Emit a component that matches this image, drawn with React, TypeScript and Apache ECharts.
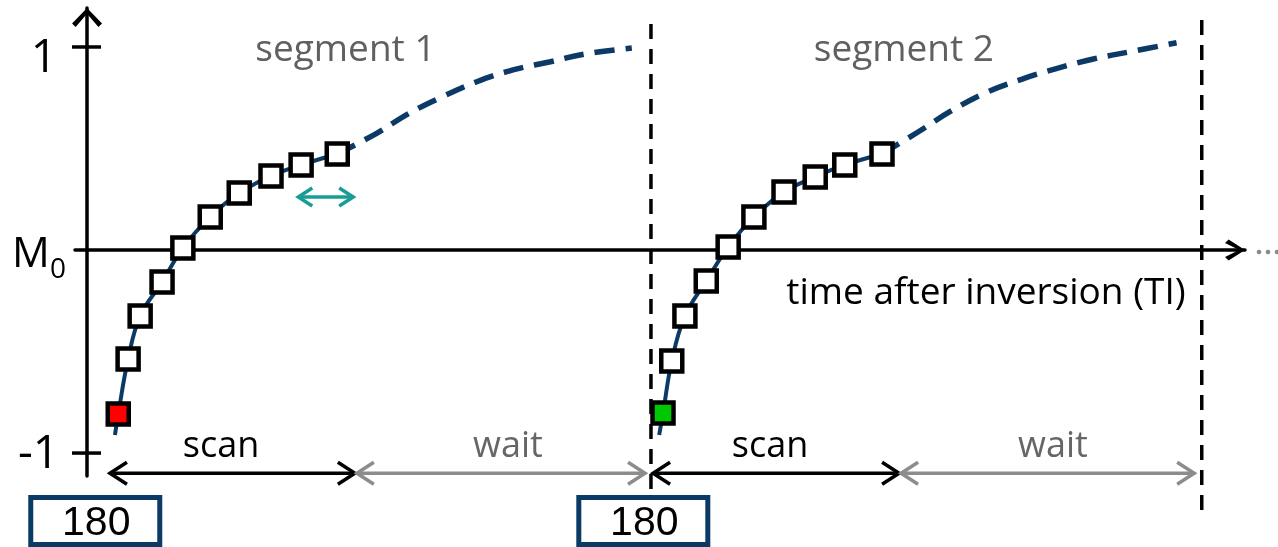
import React, { useEffect, useRef } from "react";
import * as echarts from "echarts";

// ---------- data (time units, magnetization in units of M0) ----------
const xRange = [-22, 2115];
const yRange = [-1.113, 1.192];
const yTickValues = [1, -1];

const seg1Start: [number, number] = [51, -0.911];
const seg1Readouts: [number, number][] = [
  [57, -0.808], [75, -0.537], [97, -0.325], [137, -0.158], [175, 0.01],
  [225, 0.163], [278, 0.281], [336, 0.365], [391, 0.419], [457, 0.473],
];
const seg1Wait: [number, number][] = [
  [457, 0.473], [529, 0.575], [588, 0.673], [649, 0.755], [712, 0.829],
  [778, 0.887], [844, 0.926], [911, 0.966], [995, 0.995],
];

const seg2Start: [number, number] = [1045, -0.911];
const seg2Readouts: [number, number][] = [
  [1052, -0.803], [1068, -0.547], [1092, -0.325], [1131, -0.153], [1171, 0.015],
  [1218, 0.163], [1273, 0.286], [1330, 0.36], [1384, 0.419], [1452, 0.473],
];
const seg2Wait: [number, number][] = [
  [1452, 0.473], [1517, 0.58], [1579, 0.686], [1643, 0.777], [1708, 0.842],
  [1772, 0.895], [1838, 0.941], [1906, 0.977], [1990, 1.021],
];

// interval arrows: [start, end, level]
const scanArrows = [[40, 491, -1.099], [1032, 1485, -1.099]];
const waitArrows = [[491, 1021, -1.099], [1485, 2024, -1.099]];
const trArrows = [[384, 488, 0.261]];

// segment boundaries (dashed verticals) and inversion pulses
const boundaryTimes = [1030, 2036];
const pulseTimes = [15, 1016];
const pulseLabel = "180";
const segmentLabels = ["segment 1", "segment 2"];
const segmentLabelTimes = [472, 1492];

const CURVE = "#0c3a67";
const FONT = "'Open Sans', 'Noto Sans', sans-serif";

function chevron(w: number, h: number, t: number) {
  const c = t * 1.6;
  return `path://M${w / 2},0 L${w},${h - t} L${w - t},${h} L${w / 2},${c} L${t},${h} L0,${h - t} Z`;
}

function arrowSeries(name: string, data: number[][], color: string, lw: number, len: number, half: number) {
  return {
    name,
    type: "custom",
    data,
    encode: { x: [0, 1], y: 2 },
    z: 4,
    renderItem: (_params: any, api: any) => {
      const p1 = api.coord([api.value(0), api.value(2)]);
      const p2 = api.coord([api.value(1), api.value(2)]);
      const st = { stroke: color, lineWidth: lw, fill: null, lineJoin: "miter" };
      return {
        type: "group",
        children: [
          { type: "line", shape: { x1: p1[0] + 1, y1: p1[1], x2: p2[0] - 1, y2: p2[1] }, style: st },
          {
            type: "polyline",
            shape: { points: [[p1[0] + len, p1[1] - half], [p1[0] + 1, p1[1]], [p1[0] + len, p1[1] + half]] },
            style: st,
          },
          {
            type: "polyline",
            shape: { points: [[p2[0] - len, p2[1] - half], [p2[0] - 1, p2[1]], [p2[0] - len, p2[1] + half]] },
            style: st,
          },
        ],
      };
    },
  };
}

function readoutData(pts: [number, number][], first: string) {
  return pts.map((p, i) => (i === 0 ? { value: p, itemStyle: { color: first } } : { value: p }));
}

export default function App() {
  const ref = useRef<HTMLDivElement>(null);
  useEffect(() => {
    const el = ref.current!;
    const chart = echarts.init(el, undefined, { renderer: "svg" });
    const solid = { color: CURVE, width: 4 };
    const dashed = { color: CURVE, width: 5.5, type: [20, 11], cap: "butt" };
    chart.setOption({
      animation: false,
      textStyle: { fontFamily: FONT },
      grid: { left: 75, right: 33, top: 8, bottom: 71, outerBoundsMode: "none" },
      xAxis: {
        type: "value",
        min: xRange[0],
        max: xRange[1],
        axisLine: {
          onZero: true,
          lineStyle: { color: "#000", width: 3.5 },
          symbol: ["none", chevron(21, 20, 3.6)],
          symbolSize: [21, 20],
          symbolOffset: [0, -10],
        },
        axisTick: { show: false },
        axisLabel: { show: false },
        splitLine: { show: false },
      },
      yAxis: {
        type: "value",
        min: yRange[0],
        max: yRange[1],
        axisLine: {
          onZero: true,
          lineStyle: { color: "#000", width: 3.5 },
          symbol: ["none", chevron(30, 19, 3.6)],
          symbolSize: [30, 19],
          symbolOffset: [0, -9.5],
        },
        axisTick: { show: false },
        axisLabel: { show: false },
        splitLine: { show: false },
      },
      series: [
        { name: "seg1 scan", type: "line", smooth: 0.4, showSymbol: false, data: [seg1Start, ...seg1Readouts], lineStyle: solid, z: 2 },
        { name: "seg1 wait", type: "line", smooth: 0.4, showSymbol: false, data: seg1Wait, lineStyle: dashed, z: 2 },
        { name: "seg2 scan", type: "line", smooth: 0.4, showSymbol: false, data: [seg2Start, ...seg2Readouts], lineStyle: solid, z: 2 },
        { name: "seg2 wait", type: "line", smooth: 0.4, showSymbol: false, data: seg2Wait, lineStyle: dashed, z: 2 },
        {
          name: "readouts",
          type: "scatter",
          symbol: "rect",
          symbolSize: 21,
          z: 5,
          itemStyle: { color: "#fff", borderColor: "#000", borderWidth: 4.5, opacity: 1 },
          data: [...readoutData(seg1Readouts, "#ff0000"), ...readoutData(seg2Readouts, "#00c800")],
        },
        arrowSeries("scan", scanArrows, "#000", 3.5, 18, 11),
        arrowSeries("wait", waitArrows, "#8c8c8c", 3.5, 18, 11),
        arrowSeries("TR", trArrows, "#1a9c96", 3.5, 15, 9),
      ],
    });

    const toPx = (x: number, y: number) => chart.convertToPixel({ gridIndex: 0 }, [x, y]) as number[];
    const txt = (text: string, x: number, y: number, size: number, fill: string, align = "center", fam = FONT) => ({
      type: "text",
      z: 20,
      style: { text, x, y, fill, fontSize: size, fontFamily: fam, align, verticalAlign: "middle" },
    });
    const g: any[] = [];
    // y ticks
    yTickValues.forEach((v) => {
      const y = toPx(0, v)[1];
      g.push({ type: "line", z: 10, shape: { x1: 72, y1: y, x2: 101, y2: y }, style: { stroke: "#000", lineWidth: 3.5 } });
    });
    g.push(txt("1", 57, 54, 46, "#000", "right"));
    g.push(txt("-1", 59, 450, 46, "#000", "right"));
    g.push(txt("M", 12, 250, 42, "#000", "left"));
    g.push(txt("0", 50, 267, 28, "#000", "left"));
    // dashed boundaries
    const vExt = [[24, 547], [20, 512]];
    boundaryTimes.forEach((t, i) => {
      const x = toPx(t, 0)[0];
      g.push({
        type: "line",
        z: 8,
        shape: { x1: x, y1: vExt[i][0], x2: x, y2: vExt[i][1] },
        style: { stroke: "#000", lineWidth: 3.5, lineDash: [15, 10] },
      });
    });
    // 180 pulse boxes
    pulseTimes.forEach((t) => {
      const cx = toPx(t, 0)[0];
      g.push({
        type: "rect",
        z: 15,
        shape: { x: cx - 64.5, y: 497.5, width: 129, height: 47 },
        style: { fill: "#fff", stroke: CURVE, lineWidth: 5 },
      });
      g.push(txt(pulseLabel, cx + 1, 521, 41, "#000", "center", "'Liberation Sans', Arial, sans-serif"));
    });
    // segment titles
    segmentLabels.forEach((s, i) => {
      const cx = toPx(segmentLabelTimes[i], 0)[0];
      g.push(txt(s, cx, 46, 37, "#606060"));
    });
    g.push(txt("scan", 221, 443, 36, "#000"));
    g.push(txt("wait", 508, 443, 36, "#666"));
    g.push(txt("scan", 770, 443, 36, "#000"));
    g.push(txt("wait", 1053, 443, 36, "#666"));
    g.push(txt("time after inversion (TI)", 986, 289, 37, "#000"));
    // continuation dots
    [1259, 1268, 1277].forEach((x) => {
      g.push({ type: "circle", z: 10, shape: { cx: x, cy: 252, r: 2.3 }, style: { fill: "#8a8a8a" } });
    });
    chart.setOption({ graphic: g });
    return () => chart.dispose();
  }, []);
  return <div ref={ref} style={{ position: "fixed", left: 0, top: 0, width: 1278, height: 547 }} />;
}
